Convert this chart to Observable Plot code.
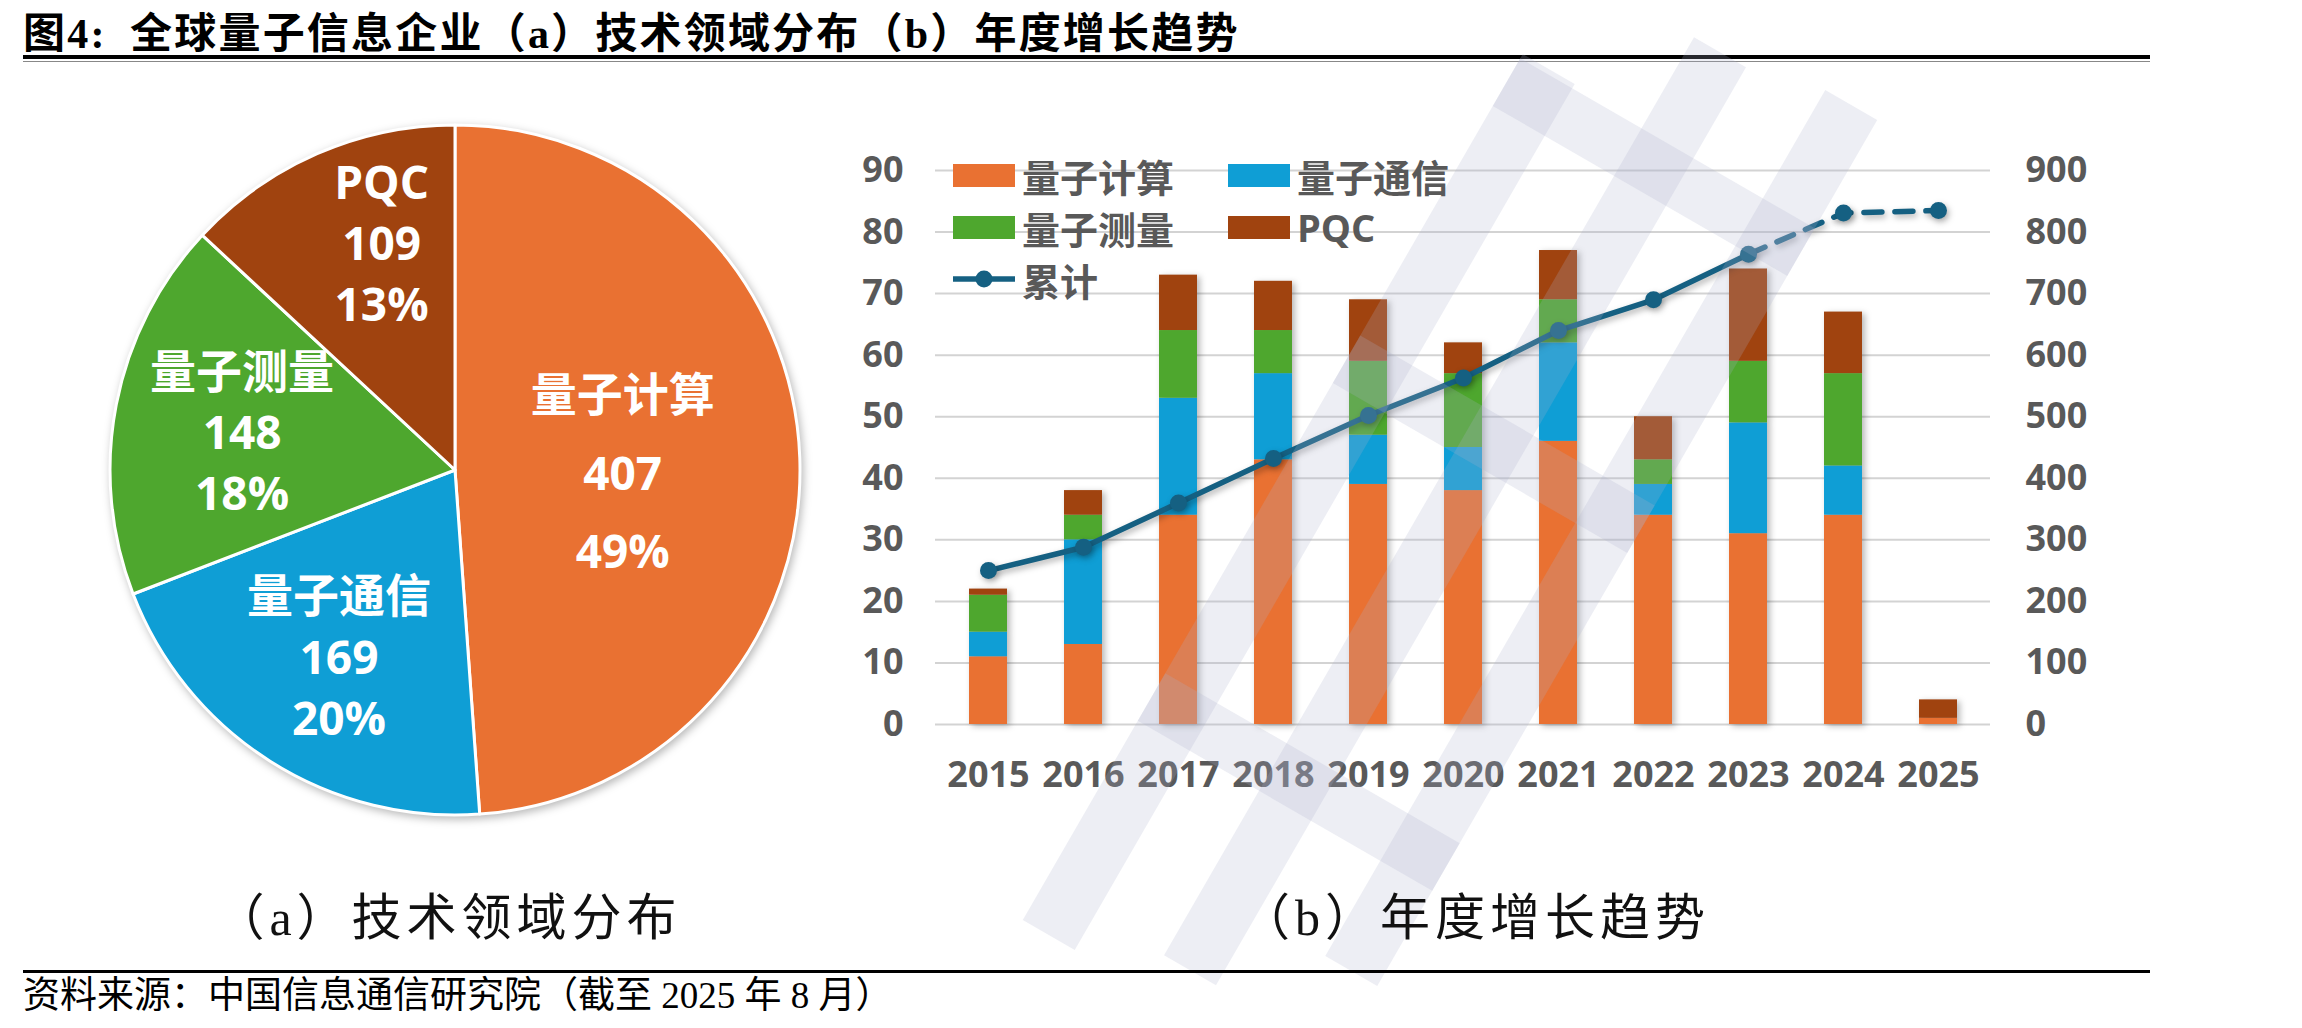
<!DOCTYPE html>
<html>
<head>
<meta charset="utf-8">
<script src="https://cdn.jsdelivr.net/npm/d3@7"></script>
<script src="https://cdn.jsdelivr.net/npm/@observablehq/plot@0.6"></script>
<style>
  html, body { margin: 0; padding: 0; background: #fff; }
  #page { position: relative; width: 2302px; height: 1028px; overflow: hidden; background: #fff; }
  .abs { position: absolute; }
  #title { left: 23px; top: 9px; font-family: "Noto Sans CJK SC", sans-serif; font-weight: 700; font-size: 42px; letter-spacing: 2.2px; color: #000; white-space: nowrap; line-height: 42px; }
  #title .lat { font-family: "Liberation Serif", serif; font-weight: 700; }
  .rule { left: 23px; width: 2127px; background: #000; }
  .caption { font-family: "Liberation Serif", "Noto Sans CJK SC", serif; font-weight: 400; font-size: 50px; letter-spacing: 5px; color: #111; white-space: nowrap; transform: translateX(-50%); line-height: 60px; }
  #source { left: 23px; top: 974px; font-family: "Liberation Serif", "Noto Sans CJK SC", serif; font-size: 37px; color: #000; white-space: nowrap; line-height: 44px; }
  .legend { font-family: "Open Sans", "Noto Sans CJK SC", sans-serif; font-weight: 700; font-size: 38px; color: #595959; }
  .legend .item { position: absolute; display: flex; align-items: center; white-space: nowrap; height: 46px; }
  .legend .sw { width: 62px; height: 23px; margin-right: 7px; }
  #mark { left: 0; top: 0; pointer-events: none; }
</style>
</head>
<body>
<div id="page">
  <div id="title" class="abs">图<span class="lat">4:</span>&nbsp; 全球量子信息企业（<span class="lat">a</span>）技术领域分布（<span class="lat">b</span>）年度增长趋势</div>
  <div class="abs rule" style="top:55px;height:4px;"></div>
  <div class="abs rule" style="top:61px;height:1px;background:#888;"></div>

  <div id="pie" class="abs" style="left:95px;top:110px;"></div>
  <div id="bars" class="abs" style="left:860px;top:130px;"></div>
  <div id="line" class="abs" style="left:860px;top:130px;"></div>

  <!-- faint document watermark -->
  <svg id="mark" class="abs" width="2302" height="1028">
    <g transform="translate(1450,520) rotate(-60)" fill="#AEB3CB" fill-opacity="0.22">
      <rect x="-560" y="-170" width="1000" height="60"/>
      <rect x="-520" y="-30" width="1060" height="60"/>
      <rect x="-440" y="110" width="1000" height="60"/>
      <rect x="-330" y="-170" width="55" height="340"/>
      <rect x="60" y="-170" width="55" height="340"/>
      <rect x="380" y="-170" width="55" height="340"/>
    </g>
  </svg>

  <div id="legend" class="abs legend" style="left:0;top:0;"></div>

  <div class="abs caption" style="left:448px;top:888px;">（a）技术领域分布</div>
  <div class="abs caption" style="left:1475px;top:888px;">（b）年度增长趋势</div>

  <div class="abs rule" style="top:970px;height:3px;"></div>
  <div id="source" class="abs">资料来源：中国信息通信研究院（截至 2025 年 8 月）</div>
</div>

<script>
// ---- Data ----------------------------------------------------------------
const fields = ["量子计算", "量子通信", "量子测量", "PQC"];
const fieldColors = ["#E97132", "#0F9ED5", "#4EA72E", "#A0430F"];
const fieldTotals = [407, 169, 148, 109];

const years = ["2015", "2016", "2017", "2018", "2019", "2020", "2021", "2022", "2023", "2024", "2025"];
const computing     = [11, 13, 34, 43, 39, 38, 46, 34, 31, 34, 1];
const communication = [4, 17, 19, 14, 8, 7, 16, 5, 18, 8, 0];
const sensing       = [6, 4, 11, 7, 12, 12, 7, 4, 10, 15, 0];
const pqc           = [1, 4, 9, 8, 10, 5, 8, 7, 15, 10, 3];
const cumulative    = [250, 288, 360, 432, 502, 563, 640, 690, 764, 831, 835];
const lastFullYear = "2023"; // later points drawn dashed

const leftTicks = [0, 10, 20, 30, 40, 50, 60, 70, 80, 90];
const rightTicks = [0, 100, 200, 300, 400, 500, 600, 700, 800, 900];

// ---- Shared styling ------------------------------------------------------
const lineColor = "#156082";
const axisFont = {fontFamily: "'Open Sans', 'Noto Sans CJK SC', sans-serif", fontWeight: 700, fontSize: "36px", color: "#595959", background: "transparent", overflow: "visible"};

// ---- (a) Pie -------------------------------------------------------------
const pieRows = fields.map((f, i) => ({field: f, value: fieldTotals[i], color: fieldColors[i]}));
const pieTotal = d3.sum(fieldTotals);
const arcs = d3.pie().sort(null).value(d => d.value)(pieRows);
const pieSize = 720, pieR = 345, pieExtent = (pieSize / 2) / pieR;

const pieLabels = arcs.map(a => {
  const share = a.data.value / pieTotal;
  const mid = (a.startAngle + a.endAngle) / 2 + (share < 0.15 ? 0.1 : 0);
  const k = share > 0.4 ? 0.485 : share < 0.15 ? 0.70 : 0.63;
  return {
    x: k * Math.sin(mid),
    y: k * Math.cos(mid),
    big: share > 0.4,
    text: `${a.data.field}\n${a.data.value}\n${Math.round(share * 100)}%`
  };
});

const pieFont = "'Open Sans', 'Noto Sans CJK SC', sans-serif";
const pie = Plot.plot({
  width: pieSize, height: pieSize, margin: 0,
  x: {domain: [-pieExtent, pieExtent], axis: null},
  y: {domain: [-pieExtent, pieExtent], axis: null},
  style: {background: "transparent", overflow: "visible"},
  marks: [
    // slices: arcs from d3.pie, placed through the plot's x/y scales
    (index, scales) => {
      const cx = scales.x(0), cy = scales.y(0), r = scales.x(1) - cx;
      const g = d3.create("svg:g").attr("transform", `translate(${cx},${cy})`)
        .style("filter", "drop-shadow(2px 3px 4px rgba(0,0,0,0.28))");
      g.selectAll("path").data(arcs).join("path")
        .attr("d", d3.arc().innerRadius(0).outerRadius(r))
        .attr("fill", d => d.data.color)
        .attr("stroke", "#fff")
        .attr("stroke-width", 3)
        .attr("stroke-linejoin", "round");
      return g.node();
    },
    Plot.text(pieLabels.filter(d => d.big), {x: "x", y: "y", text: "text", fill: "#fff", fontSize: 46, fontWeight: 700, fontFamily: pieFont, lineHeight: 1.7, lineAnchor: "middle"}),
    Plot.text(pieLabels.filter(d => !d.big), {x: "x", y: "y", text: "text", fill: "#fff", fontSize: 46, fontWeight: 700, fontFamily: pieFont, lineHeight: 1.33, lineAnchor: "middle"})
  ]
});
document.getElementById("pie").append(pie);

// ---- (b) Stacked bars + cumulative line ----------------------------------
const series = [computing, communication, sensing, pqc];
const barRows = fields.flatMap((f, i) => years.map((y, j) => ({year: y, field: f, value: series[i][j]})));
const lineRows = years.map((y, j) => ({year: y, cum: cumulative[j]}));
const cut = years.indexOf(lastFullYear);

const W = 1240, H = 680;
const margins = {marginLeft: 75, marginRight: 110, marginTop: 40, marginBottom: 86};
const xScale = {domain: years, paddingInner: 0.6, paddingOuter: 0.31};

const bars = Plot.plot({
  width: W, height: H, ...margins,
  style: axisFont,
  x: {...xScale, tickSize: 0, tickPadding: 37, label: null},
  y: {domain: [0, 90], ticks: leftTicks, tickSize: 0, tickPadding: 32, label: null},
  color: {domain: fields, range: fieldColors},
  marks: [
    Plot.ruleY(leftTicks, {stroke: "#D3D3D3", strokeWidth: 2}),
    Plot.barY(barRows, {x: "year", y: "value", fill: "field", order: fields})
  ]
});
bars.querySelectorAll('g[aria-label="bar"]').forEach(g => g.style.filter = "drop-shadow(3px 2px 3px rgba(0,0,0,0.28))");
document.getElementById("bars").append(bars);

const line = Plot.plot({
  width: W, height: H, ...margins,
  style: axisFont,
  x: {...xScale, axis: null},
  y: {domain: [0, 900], ticks: rightTicks, axis: "right", tickSize: 0, tickPadding: 35, label: null},
  marks: [
    Plot.line(lineRows.slice(0, cut + 1), {x: "year", y: "cum", stroke: lineColor, strokeWidth: 5.5, strokeLinejoin: "round"}),
    Plot.line(lineRows.slice(cut), {x: "year", y: "cum", stroke: lineColor, strokeWidth: 5.5, strokeDasharray: "18,13", strokeLinecap: "round"}),
    Plot.dot(lineRows, {x: "year", y: "cum", r: 8.5, fill: lineColor})
  ]
});
line.querySelectorAll('g[aria-label="line"], g[aria-label="dot"]').forEach(g => g.style.filter = "drop-shadow(2px 3px 3px rgba(0,0,0,0.3))");
document.getElementById("line").append(line);

// ---- Legend (inside the plot frame, top-left) ----------------------------
const legend = document.getElementById("legend");
const legendItems = [
  {label: fields[0], color: fieldColors[0], left: 953, top: 152},
  {label: fields[1], color: fieldColors[1], left: 1228, top: 152},
  {label: fields[2], color: fieldColors[2], left: 953, top: 204},
  {label: fields[3], color: fieldColors[3], left: 1228, top: 204}
];
for (const it of legendItems) {
  const el = document.createElement("div");
  el.className = "item";
  el.style.left = it.left + "px";
  el.style.top = it.top + "px";
  el.innerHTML = `<div class="sw" style="background:${it.color}"></div><span>${it.label}</span>`;
  legend.append(el);
}
const lineItem = document.createElement("div");
lineItem.className = "item";
lineItem.style.left = "953px";
lineItem.style.top = "256px";
lineItem.innerHTML = `<svg width="62" height="24" style="margin-right:7px;overflow:visible"><line x1="0" y1="12" x2="62" y2="12" stroke="${lineColor}" stroke-width="5.5"/><circle cx="31" cy="12" r="8.5" fill="${lineColor}"/></svg><span>累计</span>`;
legend.append(lineItem);
</script>
</body>
</html>
